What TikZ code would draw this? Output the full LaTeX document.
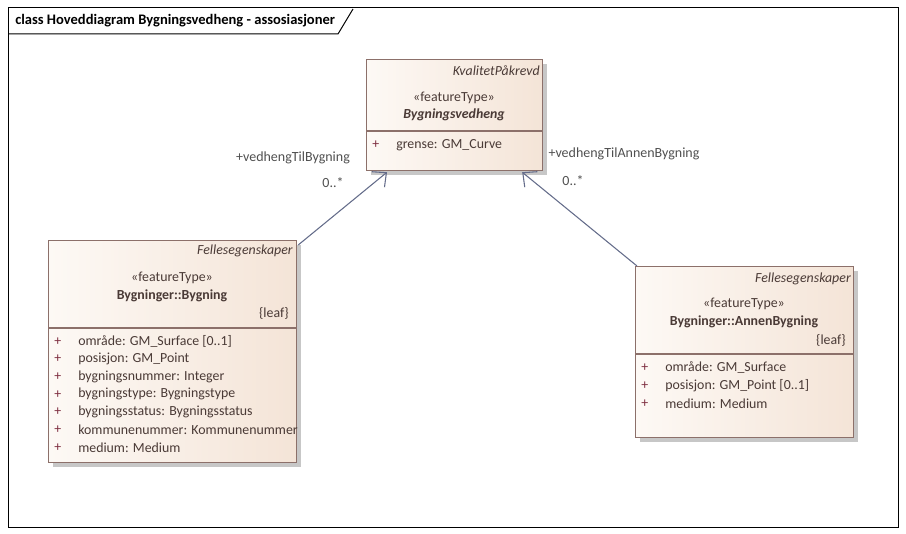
\documentclass[tikz,border=0pt]{standalone}
\usepackage{fontspec}
\setmainfont{Carlito}
\usetikzlibrary{arrows.meta,shadows,calc}
\definecolor{kantfarge}{HTML}{8C706A}
\definecolor{lysfyll}{HTML}{FDF9F5}
\definecolor{morkfyll}{HTML}{F4E4D7}
\definecolor{tekstfarge}{HTML}{4A3A36}
\definecolor{plussfarge}{HTML}{7E2E40}
\definecolor{pilfarge}{HTML}{646C8A}
\definecolor{rollefarge}{HTML}{505050}
\tikzstyle{klasse} = [draw=kantfarge, line width=0.9pt, anchor=north west, inner sep=0pt, left color=lysfyll, right color=morkfyll, drop shadow={shadow xshift=3pt, shadow yshift=-3pt, fill=black!22, opacity=1}]
\tikzstyle{kant} = [draw=kantfarge, line width=0.9pt]
\tikzstyle{tekst} = [inner sep=0pt, text=tekstfarge, font=\fontsize{10.4}{12}\selectfont]
\tikzset{
  merkelapp/.style ={tekst, anchor=east, font=\fontsize{10.4}{12}\selectfont\itshape},
  stereotyp/.style ={tekst},
  klassenavn/.style ={tekst, font=\fontsize{10.4}{12}\selectfont\bfseries},
  pluss/.style ={tekst, text=plussfarge, anchor=west},
  attributt/.style ={tekst, anchor=west},
  rolle/.style ={inner sep=0pt, text=rollefarge, font=\fontsize{10.5}{12}\selectfont},
  assosiasjon/.style ={draw=pilfarge, line width=0.8pt, -{Straight Barb[length=8pt,width=15pt]}}
}

\begin{document}
\begin{tikzpicture}[x=0.75pt,y=-0.75pt]
	\useasboundingbox (0,0) rectangle (906,534);
	\draw [line width=0.75pt] (8,8) rectangle (898,527);
	\draw [line width=0.75pt] (8,34) -- (338,34) -- (353,9);
	\node [inner sep=0pt, anchor=west, font=\fontsize{10.9}{12}\selectfont\bfseries] (tittel) at (15,21) {class Hoveddiagram Bygningsvedheng - assosiasjoner};

	% Bygningsvedheng
	\node [klasse, minimum width=132pt, minimum height=83.25pt] (vedheng) at (366,59) {};
	\draw [kant] (vedheng.west |- 0,131) -- (vedheng.east |- 0,131);
	\node [merkelapp] (vedhengTag) at (540,71) {KvalitetPåkrevd};
	\node [stereotyp] (vedhengStereo) at (454,98) {«featureType»};
	\node [klassenavn, font=\fontsize{10.4}{12}\selectfont\bfseries\itshape] (vedhengNavn) at (454,115) {Bygningsvedheng};
	\node [pluss] (vedhengPluss) at (372,145) {+};
	\node [attributt] (vedhengAttr) at (396,145) {grense: GM\_Curve};

	% Bygning
	\node [klasse, minimum width=186pt, minimum height=166.5pt] (bygning) at (48,240) {};
	\draw [kant] (bygning.west |- 0,328) -- (bygning.east |- 0,328);
	\node [merkelapp] (bygningTag) at (293,251) {Fellesegenskaper};
	\node [stereotyp] (bygningStereo) at (172,278) {«featureType»};
	\node [klassenavn] (bygningNavn) at (172,296) {Bygninger::Bygning};
	\node [tekst, anchor=east] (bygningLeaf) at (289,313) {\{leaf\}};
	\foreach \tekst [count=\i] in {{område: GM\_Surface [0..1]}, {posisjon: GM\_Point}, {bygningsnummer: Integer}, {bygningstype: Bygningstype}, {bygningsstatus: Bygningsstatus}, {kommunenummer: Kommunenummer}, {medium: Medium}}
	{
		\node [pluss] (bygningPluss\i) at (54,{323.5+17.7*\i}) {+};
		\node [attributt] (bygningAttr\i) at (78,{323.5+17.7*\i}) {\tekst};
	}

	% AnnenBygning
	\node [klasse, minimum width=163.5pt, minimum height=128.25pt] (annen) at (635,266) {};
	\draw [kant] (annen.west |- 0,354) -- (annen.east |- 0,354);
	\node [merkelapp] (annenTag) at (851,279) {Fellesegenskaper};
	\node [stereotyp] (annenStereo) at (744,304) {«featureType»};
	\node [klassenavn] (annenNavn) at (744,322) {Bygninger::AnnenBygning};
	\node [tekst, anchor=east] (annenLeaf) at (846,340) {\{leaf\}};
	\foreach \tekst [count=\i] in {{område: GM\_Surface}, {posisjon: GM\_Point [0..1]}, {medium: Medium}}
	{
		\node [pluss] (annenPluss\i) at (641,{350.3+17.7*\i}) {+};
		\node [attributt] (annenAttr\i) at (665,{350.3+17.7*\i}) {\tekst};
	}

	% assosiasjoner
	\draw [assosiasjon] ($(bygning.north east)+(1,5)$) -- ($(vedheng.south west)+(21,1)$);
	\draw [assosiasjon] ($(annen.north west)+(2,0)$) -- ($(vedheng.south east)+(-21,1)$);
	\node [rolle] (rolleByg) at (293,158) {+vedhengTilBygning};
	\node [rolle] (multByg) at (333,183) {0..*};
	\node [rolle] (rolleAnnen) at (624,154) {+vedhengTilAnnenBygning};
	\node [rolle] (multAnnen) at (573,181) {0..*};
\end{tikzpicture}
\end{document}
